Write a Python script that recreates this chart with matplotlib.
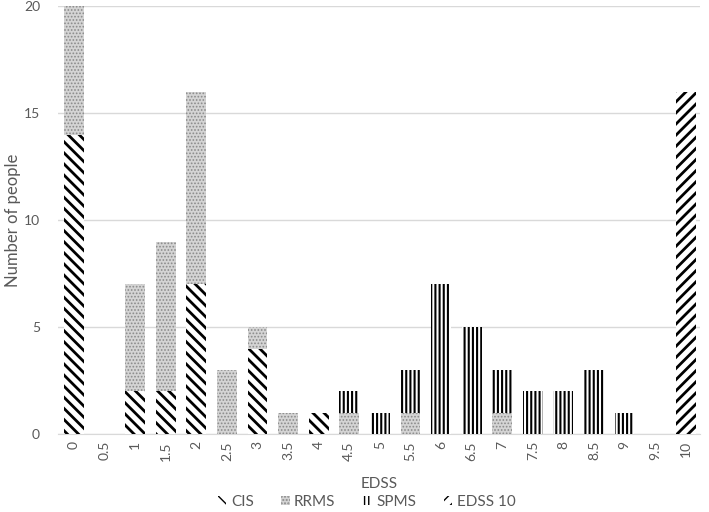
import numpy as np
import matplotlib.pyplot as plt

plt.rcParams['font.family'] = ['Lato', 'DejaVu Sans']

edss = ['0', '0.5', '1', '1.5', '2', '2.5', '3', '3.5', '4', '4.5', '5',
        '5.5', '6', '6.5', '7', '7.5', '8', '8.5', '9', '9.5', '10']
cis = [14, 0, 2, 2, 7, 0, 4, 0, 1, 0, 0, 0, 0, 0, 0, 0, 0, 0, 0, 0, 0]
rrms = [6, 0, 5, 7, 9, 3, 1, 1, 0, 1, 0, 1, 0, 0, 1, 0, 0, 0, 0, 0, 0]
spms = [0, 0, 0, 0, 0, 0, 0, 0, 0, 1, 1, 2, 7, 5, 2, 2, 2, 3, 1, 0, 0]
edss10 = [0, 0, 0, 0, 0, 0, 0, 0, 0, 0, 0, 0, 0, 0, 0, 0, 0, 0, 0, 0, 16]

series = [
    ('CIS', cis, dict(facecolor='white', edgecolor='black', hatch='\\\\\\'), 2.0),
    ('RRMS', rrms, dict(facecolor='#d4d4d4', edgecolor='#8a8a8a', hatch='.....'), 0.8),
    ('SPMS', spms, dict(facecolor='white', edgecolor='black', hatch='||||'), 1.5),
    ('EDSS 10', edss10, dict(facecolor='white', edgecolor='black', hatch='///'), 2.0),
]

fig = plt.figure(figsize=(7.09, 5.12), dpi=100)
ax = fig.add_axes([0.082, 0.152, 0.905, 0.836])

x = np.arange(len(edss))
bottom = np.zeros(len(edss))
for name, vals, style, hlw in series:
    vals = np.array(vals, dtype=float)
    bars = ax.bar(x, vals, 0.65, bottom=bottom, linewidth=0, label=name, zorder=3, **style)
    for b in bars:
        if hasattr(b, 'set_hatch_linewidth'):
            b.set_hatch_linewidth(hlw)
    bottom += vals

ax.set_xlim(-0.52, 20.46)
ax.set_ylim(0, 20)
ax.set_yticks([0, 5, 10, 15, 20])
ax.set_xticks(x)
ax.set_xticklabels(edss, rotation=90)
ax.grid(axis='y', color='#d9d9d9', linewidth=1, zorder=0)
for s in ['top', 'right', 'left']:
    ax.spines[s].set_visible(False)
ax.spines['bottom'].set_color('#d9d9d9')
ax.tick_params(length=0, colors='#595959', labelsize=10)
ax.tick_params(axis='y', pad=13)
ax.tick_params(axis='x', pad=5)
ax.set_xlabel('EDSS', fontsize=11, color='#595959', labelpad=12)
ax.set_ylabel('Number of people', fontsize=12, color='#595959')
ax.yaxis.set_label_coords(-0.058, 0.5)

handles, labels = ax.get_legend_handles_labels()
fig.legend(handles, labels, loc='center', bbox_to_anchor=(0.517, 0.019), ncol=4, frameon=False,
           fontsize=11, handlelength=0.55, handleheight=0.55, handletextpad=0.3,
           columnspacing=1.8, labelcolor='#595959')

fig.savefig('out.png', dpi=100)
